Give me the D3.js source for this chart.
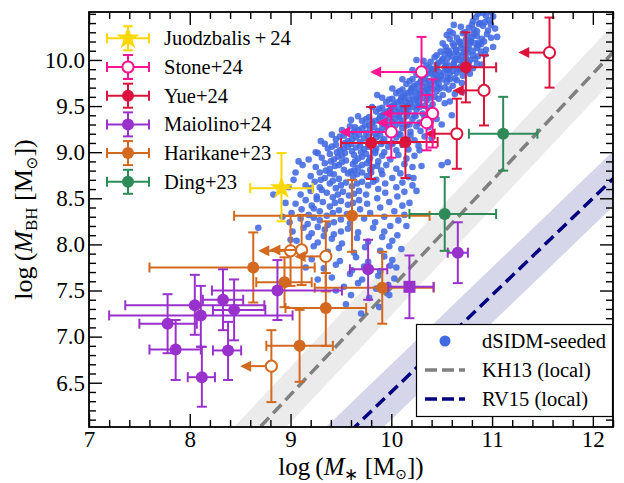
<!DOCTYPE html>
<html>
<head>
<meta charset="utf-8">
<script src="https://cdn.jsdelivr.net/npm/d3@7"></script>
<style>
  body { margin: 0; background: #fff; }
</style>
</head>
<body>
<div id="chart"></div>
<script>
// ---- data ----
// dSIDM-seeded simulated galaxies: [log M*, log MBH]
const dsidm = [
  [10.84,10.46],[10.91,10.51],[10.97,10.43],[10.81,10.42],[10.94,10.48],[11.01,10.47],[10.88,10.40],[10.99,10.52],[10.86,10.50],
  [10.77,10.35],[10.85,10.31],[10.91,10.37],[10.96,10.32],[10.73,10.30],[10.87,10.39],[10.80,10.38],[11.03,10.34],[10.93,10.41],[10.69,10.36],[10.82,10.33],[10.99,10.38],
  [10.65,10.24],[10.71,10.29],[10.79,10.21],[10.82,10.28],[10.90,10.23],[10.95,10.28],[10.68,10.20],[10.75,10.27],[10.87,10.19],[10.61,10.29],[10.80,10.25],[10.92,10.20],[10.99,10.24],[10.58,10.23],[10.74,10.22],[10.85,10.26],
  [10.54,10.14],[10.61,10.18],[10.64,10.11],[10.71,10.16],[10.75,10.12],[10.78,10.19],[10.85,10.13],[10.89,10.17],[10.94,10.11],[10.57,10.10],[10.67,10.19],[10.73,10.09],[10.81,10.10],[10.62,10.15],[10.77,10.15],[10.86,10.16],[10.51,10.18],[11.01,10.14],[10.69,10.13],[10.83,10.18],
  [10.45,10.05],[10.49,10.09],[10.56,10.02],[10.58,10.07],[10.64,10.01],[10.66,10.06],[10.72,10.08],[10.74,10.02],[10.81,10.05],[10.83,10.01],[10.89,10.09],[10.51,10.01],[10.55,10.10],[10.64,10.09],[10.70,10.04],[10.78,10.00],[10.60,10.04],[10.68,10.00],[10.43,10.03],[10.93,10.06],[10.53,10.06],[10.76,10.08],[10.86,10.04],
  [10.35,9.94],[10.39,9.98],[10.45,9.91],[10.47,9.97],[10.53,9.92],[10.55,9.96],[10.61,9.94],[10.63,9.99],[10.69,9.93],[10.71,9.90],[10.77,9.97],[10.81,9.91],[10.41,9.90],[10.50,9.99],[10.57,9.90],[10.66,9.91],[10.71,9.98],[10.45,9.95],[10.54,9.94],[10.62,9.96],[10.85,9.96],[10.32,9.99],[10.38,9.92],[10.74,9.94],
  [10.25,9.84],[10.31,9.88],[10.33,9.81],[10.39,9.86],[10.42,9.82],[10.47,9.87],[10.49,9.83],[10.55,9.89],[10.58,9.85],[10.63,9.80],[10.65,9.86],[10.71,9.83],[10.31,9.80],[10.41,9.89],[10.47,9.80],[10.56,9.81],[10.61,9.88],[10.36,9.85],[10.44,9.84],[10.52,9.86],[10.75,9.88],[10.21,9.89],[10.28,9.86],[10.68,9.89],
  [10.15,9.74],[10.21,9.79],[10.23,9.72],[10.29,9.76],[10.31,9.71],[10.37,9.77],[10.39,9.73],[10.45,9.78],[10.47,9.74],[10.53,9.70],[10.55,9.76],[10.61,9.72],[10.21,9.70],[10.30,9.79],[10.37,9.70],[10.46,9.71],[10.51,9.79],[10.26,9.74],[10.34,9.75],[10.42,9.76],[10.65,9.78],[10.11,9.79],[10.18,9.77],[10.58,9.79],[10.70,9.75],
  [10.05,9.64],[10.11,9.68],[10.13,9.62],[10.19,9.66],[10.21,9.61],[10.27,9.67],[10.29,9.63],[10.35,9.68],[10.37,9.64],[10.43,9.60],[10.45,9.66],[10.51,9.62],[10.11,9.60],[10.20,9.69],[10.27,9.60],[10.36,9.61],[10.41,9.69],[10.16,9.64],[10.24,9.65],[10.32,9.66],[10.57,9.68],[10.01,9.69],[10.63,9.63],[10.08,9.66],[10.48,9.69],
  [9.95,9.54],[10.01,9.58],[10.03,9.52],[10.09,9.56],[10.11,9.51],[10.17,9.57],[10.19,9.53],[10.25,9.58],[10.27,9.54],[10.33,9.50],[10.35,9.56],[10.41,9.52],[10.01,9.50],[10.10,9.59],[10.17,9.50],[10.26,9.51],[10.31,9.59],[10.06,9.54],[10.14,9.55],[10.22,9.56],[10.47,9.58],[9.91,9.59],[10.53,9.53],[9.98,9.57],[10.38,9.59],
  [9.85,9.44],[9.91,9.48],[9.93,9.42],[9.99,9.46],[10.01,9.41],[10.07,9.47],[10.09,9.43],[10.15,9.48],[10.17,9.44],[10.23,9.40],[10.25,9.46],[10.31,9.42],[9.91,9.40],[10.00,9.49],[10.07,9.40],[10.16,9.41],[10.21,9.49],[9.96,9.44],[10.04,9.45],[10.12,9.46],[10.37,9.48],[9.81,9.49],[10.43,9.43],[9.88,9.47],[10.28,9.49],
  [9.71,9.34],[9.78,9.38],[9.81,9.32],[9.88,9.36],[9.91,9.31],[9.98,9.37],[10.01,9.33],[10.08,9.38],[10.11,9.34],[10.18,9.30],[10.21,9.36],[10.28,9.32],[9.78,9.30],[9.89,9.39],[9.98,9.30],[10.09,9.31],[10.15,9.39],[9.84,9.34],[9.94,9.35],[10.04,9.36],[10.33,9.38],[9.67,9.39],[10.39,9.33],[10.45,9.36],[9.75,9.36],[10.24,9.39],
  [9.51,9.24],[9.59,9.28],[9.63,9.22],[9.71,9.26],[9.75,9.21],[9.83,9.27],[9.87,9.23],[9.95,9.28],[9.99,9.24],[10.07,9.20],[10.11,9.26],[10.19,9.22],[9.60,9.20],[9.74,9.29],[9.84,9.20],[9.97,9.21],[10.04,9.29],[9.67,9.24],[9.79,9.25],[9.91,9.26],[10.25,9.28],[10.29,9.23],[10.37,9.27],[9.55,9.21],[9.64,9.27],[10.15,9.29],
  [9.45,9.14],[9.53,9.18],[9.57,9.12],[9.65,9.16],[9.69,9.11],[9.77,9.17],[9.81,9.13],[9.89,9.18],[9.93,9.14],[10.01,9.10],[10.05,9.16],[10.13,9.12],[9.54,9.10],[9.68,9.19],[9.78,9.10],[9.91,9.11],[9.98,9.19],[9.61,9.14],[9.73,9.15],[9.85,9.16],[10.19,9.18],[10.23,9.13],[10.33,9.17],[9.41,9.19],[9.49,9.17],[10.09,9.19],
  [9.37,9.04],[9.45,9.08],[9.49,9.02],[9.57,9.06],[9.61,9.01],[9.69,9.07],[9.73,9.03],[9.81,9.08],[9.85,9.04],[9.93,9.00],[9.97,9.06],[10.05,9.02],[9.46,9.00],[9.60,9.09],[9.70,9.00],[9.84,9.01],[9.90,9.09],[9.53,9.04],[9.65,9.05],[9.77,9.06],[10.11,9.08],[10.17,9.03],[10.27,9.07],[9.34,9.09],[9.41,9.06],[10.01,9.09],
  [9.31,8.94],[9.39,8.98],[9.43,8.92],[9.51,8.96],[9.55,8.91],[9.63,8.97],[9.67,8.93],[9.75,8.98],[9.79,8.94],[9.87,8.90],[9.91,8.96],[9.99,8.92],[9.40,8.90],[9.54,8.99],[9.64,8.90],[9.78,8.91],[9.84,8.99],[10.07,8.97],[10.15,8.93],[10.23,8.96],[9.08,8.90],[9.27,8.99],[9.47,8.95],[9.71,8.95],
  [9.25,8.84],[9.34,8.88],[9.39,8.82],[9.48,8.86],[9.53,8.81],[9.62,8.87],[9.67,8.83],[9.76,8.88],[9.81,8.84],[9.90,8.80],[9.95,8.86],[10.05,8.82],[9.35,8.80],[9.51,8.89],[9.63,8.80],[9.79,8.81],[10.13,8.87],[10.21,8.84],[10.50,8.86],[10.56,8.89],[9.44,8.85],[9.71,8.86],[9.86,8.85],
  [9.20,8.74],[9.29,8.78],[9.34,8.72],[9.43,8.76],[9.48,8.71],[9.57,8.77],[9.62,8.73],[9.71,8.78],[9.76,8.74],[9.85,8.70],[9.91,8.76],[10.01,8.72],[10.09,8.77],[10.17,8.73],[9.30,8.70],[9.60,8.79],[9.39,8.77],[9.66,8.76],[9.80,8.78],
  [9.15,8.64],[9.24,8.68],[9.29,8.62],[9.39,8.66],[9.45,8.61],[9.55,8.67],[9.61,8.63],[9.71,8.68],[9.77,8.64],[9.87,8.60],[9.94,8.66],[10.05,8.62],[10.11,8.67],[10.21,8.64],[9.42,8.69],[9.20,8.61],[9.50,8.64],[9.66,8.66],[9.82,8.68],
  [9.10,8.54],[9.20,8.58],[9.26,8.52],[9.36,8.56],[9.42,8.51],[9.52,8.57],[9.58,8.53],[9.68,8.58],[9.75,8.54],[9.86,8.50],[9.94,8.56],[10.06,8.52],[10.13,8.57],[8.83,8.54],[9.31,8.59],[9.47,8.54],[9.63,8.55],
  [9.05,8.44],[9.15,8.48],[9.21,8.42],[9.32,8.46],[9.39,8.41],[9.50,8.47],[9.57,8.43],[9.68,8.48],[9.76,8.44],[9.89,8.40],[9.98,8.46],[10.11,8.42],[9.26,8.49],[9.44,8.45],[9.62,8.45],
  [9.01,8.34],[9.11,8.38],[9.18,8.32],[9.29,8.36],[9.36,8.31],[9.48,8.37],[9.56,8.33],[9.69,8.38],[9.79,8.34],[9.93,8.30],[10.03,8.36],[10.13,8.32],[9.23,8.39],[9.42,8.34],
  [8.99,8.24],[9.10,8.28],[9.17,8.22],[9.29,8.26],[9.37,8.21],[9.50,8.27],[9.59,8.23],[9.73,8.28],[9.84,8.24],[9.99,8.20],[10.07,8.26],[9.23,8.29],[9.43,8.24],
  [9.02,8.14],[9.13,8.18],[9.21,8.12],[9.34,8.16],[9.43,8.11],[9.57,8.17],[9.67,8.13],[9.82,8.18],[9.93,8.14],[10.06,8.10],[8.68,8.18],[9.27,8.19],[9.50,8.14],
  [9.06,8.04],[9.18,8.08],[9.27,8.02],[9.41,8.06],[9.51,8.01],[9.66,8.07],[9.77,8.03],[9.91,8.08],[10.01,8.04],[9.33,8.09],
  [9.13,7.94],[9.23,7.98],[9.37,7.92],[9.48,7.96],[9.63,7.91],[9.74,7.97],[9.89,7.93],[9.98,7.98],
  [9.21,7.84],[9.37,7.88],[9.49,7.82],[9.65,7.86],[9.77,7.81],[9.93,7.87],[10.01,7.83],
  [9.33,7.74],[9.45,7.78],[9.61,7.72],[9.73,7.76],[9.89,7.71],[9.99,7.77],
  [9.41,7.64],[9.59,7.68],[9.71,7.62],[9.87,7.66],[10.03,7.63],
  [9.53,7.54],[9.67,7.58],[9.85,7.52],[9.97,7.56],
  [9.60,7.45],[9.78,7.42],[9.88,7.32],[9.70,7.25],
  // scattered outliers around the main cloud
  [9.05,8.78],[9.12,8.86],[8.98,8.62],[9.03,8.70],[8.95,8.45],[9.18,8.92],[9.00,8.05],[8.92,8.30],
  [10.18,8.45],[10.25,8.58],[10.22,8.72],[10.30,8.85],[10.28,9.02],[10.40,9.15],[10.15,8.20],[10.10,7.95],
  [9.15,7.75],[9.27,7.62],[9.45,7.50],[9.98,7.45],[10.05,7.75],[9.55,7.35],
  [10.60,9.40],[10.58,9.55],[10.70,9.65],[10.78,9.85],[10.90,9.95],[11.05,10.25],[10.50,9.30],
  [9.60,9.35],[9.30,9.12],[9.25,9.00],[9.86,9.62],[10.25,10.00],[10.58,10.31],[10.62,10.38],[10.55,10.27]
];

// detections: [x, y, x err low, x err high, y err low, y err high]
const juodzbalis = [[8.91, 8.61, 0.31, 0.31, 0.36, 0.38]];
const yueDet = [[10.74, 9.92, 0.30, 0.30, 0.38, 0.38], [9.80, 9.10, 0.30, 0.30, 0.39, 0.39], [10.14, 9.11, 0.32, 0.32, 0.39, 0.39]];
const maiolino = [
  [7.78, 7.14, 0.28, 0.29, 0.32, 0.32], [7.86, 6.86, 0.26, 0.25, 0.33, 0.32],
  [8.05, 7.34, 0.69, 0.69, 0.32, 0.33], [8.11, 7.23, 0.91, 0.91, 0.34, 0.32],
  [8.12, 6.56, 0.14, 0.13, 0.32, 0.33], [8.33, 7.40, 0.20, 0.20, 0.33, 0.33],
  [8.44, 7.29, 0.21, 0.31, 0.33, 0.33], [8.38, 6.85, 0.15, 0.13, 0.32, 0.31],
  [8.87, 7.50, 0.65, 0.64, 0.32, 0.33], [9.77, 7.73, 0.18, 0.19, 0.33, 0.32],
  [10.66, 7.91, 0.10, 0.10, 0.33, 0.33]
];
const maiolinoSq = [[10.18, 7.54, 0.21, 0.24, 0.34, 0.34]];
const harikaneDet = [
  [8.63, 7.75, 1.03, 0.61, 0.38, 0.38], [8.94, 7.59, 0.28, 0.27, 0.27, 0.27],
  [9.09, 6.90, 0.33, 0.33, 0.39, 0.39], [9.35, 7.31, 0.40, 0.40, 0.41, 0.38],
  [9.61, 8.31, 1.17, 0.77, 0.39, 0.39], [9.91, 7.53, 0.67, 0.51, 0.39, 0.39]
];
const ding = [[11.11, 9.20, 0.34, 0.34, 0.40, 0.40], [10.53, 8.33, 0.35, 0.51, 0.40, 0.40]];

// upper limits on M*: [x, y, arrow length, y err]
const stoneLim = [[10.30, 9.87, 0.51, 0.38], [10.41, 9.42, 0.51, 0.37], [10.35, 9.32, 0.50, 0.30], [10.00, 9.22, 0.52, 0.28]];
const yueLim = [[11.57, 10.08, 0.31, 0.38], [10.92, 9.67, 0.31, 0.38], [10.65, 9.20, 0.32, 0.38]];
const harikaneLim = [[9.00, 7.93, 0.32, 0.38], [9.11, 7.94, 0.32, 0.38], [9.35, 7.87, 0.31, 0.38], [8.81, 6.68, 0.31, 0.39]];

// local relations: log MBH = a + b (log M* - 11), band +- s
const kh13 = { a: 8.69, b: 1.16, s: 0.3 };
const rv15 = { a: 7.45, b: 1.05, s: 0.3 };

const xTicks = [7, 8, 9, 10, 11, 12];
const yTicks = [6.5, 7.0, 7.5, 8.0, 8.5, 9.0, 9.5, 10.0];

const obsLegend = ["Juodzbalis\u2009+\u200924", "Stone+24", "Yue+24", "Maiolino+24", "Harikane+23", "Ding+23"];
const obsColors = ["#ffd700", "#ff1493", "#dc143c", "#9932cc", "#d2691e", "#2e8b57"];

// ---- layout ----
const width = 624, height = 483;
const plot = { left: 89, right: 613, top: 12, bottom: 427 };
const serif = "Liberation Serif";

const x = d3.scaleLinear().domain([7, 12.2]).range([plot.left, plot.right]);
const y = d3.scaleLinear().domain([6.02, 10.52]).range([plot.bottom, plot.top]);

const svg = d3.select("#chart").append("svg")
  .attr("width", width).attr("height", height)
  .attr("font-family", serif)
  .style("background", "#fff");

svg.append("clipPath").attr("id", "clip")
  .append("rect")
  .attr("x", plot.left).attr("y", plot.top)
  .attr("width", plot.right - plot.left).attr("height", plot.bottom - plot.top);

const g = svg.append("g").attr("clip-path", "url(#clip)");

// relation bands and lines
function relation(rel, fill, stroke) {
  const xs = [6.5, 12.5];
  const area = d3.area()
    .x(d => x(d))
    .y0(d => y(rel.a + rel.b * (d - 11) - rel.s))
    .y1(d => y(rel.a + rel.b * (d - 11) + rel.s));
  g.append("path").datum(xs).attr("d", area).attr("fill", fill);
  g.append("line")
    .attr("x1", x(xs[0])).attr("y1", y(rel.a + rel.b * (xs[0] - 11)))
    .attr("x2", x(xs[1])).attr("y2", y(rel.a + rel.b * (xs[1] - 11)))
    .attr("stroke", stroke).attr("stroke-width", 3.5)
    .attr("stroke-dasharray", "12,6");
}
relation(kh13, "#ebebeb", "#808080");
relation(rv15, "#d6d6eb", "#000080");

// simulated cloud
g.append("g").selectAll("circle")
  .data(dsidm)
  .join("circle")
  .attr("cx", d => x(d[0])).attr("cy", d => y(d[1]))
  .attr("r", 3.3)
  .attr("fill", "#4169e1")
  .attr("fill-opacity", 0.88);

// error bar helpers
const cap = 5;
function hbar(sel, x1, x2, yy, color) {
  sel.append("line").attr("x1", x1).attr("x2", x2).attr("y1", yy).attr("y2", yy)
    .attr("stroke", color).attr("stroke-width", 2);
}
function vbar(sel, xx, y1, y2, color) {
  sel.append("line").attr("x1", xx).attr("x2", xx).attr("y1", y1).attr("y2", y2)
    .attr("stroke", color).attr("stroke-width", 2);
}
function crossPx(sel, cx, cy, xl, xr, yu, yl, color) {
  hbar(sel, xl, xr, cy, color);
  vbar(sel, xl, cy - cap, cy + cap, color);
  vbar(sel, xr, cy - cap, cy + cap, color);
  vbar(sel, cx, yu, yl, color);
  hbar(sel, cx - cap, cx + cap, yu, color);
  hbar(sel, cx - cap, cx + cap, yl, color);
}
function marker(sel, cx, cy, kind, color) {
  if (kind === "star") {
    sel.append("path").attr("d", d3.symbol(d3.symbolStar, 170)())
      .attr("transform", `translate(${cx},${cy})`).attr("fill", color);
  } else if (kind === "square") {
    sel.append("rect").attr("x", cx - 6).attr("y", cy - 6).attr("width", 12).attr("height", 12)
      .attr("fill", color);
  } else if (kind === "open") {
    sel.append("circle").attr("cx", cx).attr("cy", cy).attr("r", 5.6)
      .attr("fill", "#fff").attr("stroke", color).attr("stroke-width", 2);
  } else {
    sel.append("circle").attr("cx", cx).attr("cy", cy).attr("r", 6).attr("fill", color);
  }
}
function detections(data, color, kind) {
  const s = g.append("g");
  data.forEach(d => {
    crossPx(s, x(d[0]), y(d[1]), x(d[0] - d[2]), x(d[0] + d[3]), y(d[1] + d[5]), y(d[1] - d[4]), color);
    marker(s, x(d[0]), y(d[1]), kind, color);
  });
}
function limits(data, color) {
  const s = g.append("g");
  data.forEach(d => {
    const cx = x(d[0]), cy = y(d[1]), xe = x(d[0] - d[2]);
    vbar(s, cx, y(d[1] + d[3]), y(d[1] - d[3]), color);
    hbar(s, cx - cap, cx + cap, y(d[1] + d[3]), color);
    hbar(s, cx - cap, cx + cap, y(d[1] - d[3]), color);
    hbar(s, cx, xe + 6, cy, color);
    s.append("path")
      .attr("d", `M${xe},${cy}L${xe + 11},${cy - 5.5}L${xe + 11},${cy + 5.5}Z`)
      .attr("fill", color);
    marker(s, cx, cy, "open", color);
  });
}

detections(harikaneDet, obsColors[4], "circle");
limits(harikaneLim, obsColors[4]);
detections(maiolino, obsColors[3], "circle");
detections(maiolinoSq, obsColors[3], "square");
detections(ding, obsColors[5], "circle");
limits(yueLim, obsColors[2]);
detections(yueDet, obsColors[2], "circle");
limits(stoneLim, obsColors[1]);
detections(juodzbalis, obsColors[0], "star");

// ---- axes ----
function frange(a, b, step) {
  const out = [];
  for (let v = a; v <= b + 1e-9; v += step) out.push(+v.toFixed(2));
  return out;
}
const xMinor = frange(7, 12.2, 0.2).filter(v => !xTicks.includes(v));
const yMinor = frange(6.1, 10.5, 0.1).filter(v => !yTicks.includes(v));
const major = 13, minor = 7;

function addAxis(axis, tx, ty, labels) {
  const a = svg.append("g").attr("transform", `translate(${tx},${ty})`).call(axis);
  a.attr("font-family", serif).attr("font-size", 23);
  a.select(".domain").remove();
  a.selectAll(".tick line").attr("stroke", "#000").attr("stroke-width", 1.4);
  a.selectAll("text").attr("fill", "#000");
  if (!labels) a.selectAll("text").remove();
  return a;
}
addAxis(d3.axisBottom(x).tickValues(xTicks).tickSize(-major).tickPadding(4).tickFormat(d3.format("d")), 0, plot.bottom, true);
addAxis(d3.axisBottom(x).tickValues(xMinor).tickSize(-minor), 0, plot.bottom, false);
addAxis(d3.axisTop(x).tickValues(xTicks).tickSize(-major), 0, plot.top, false);
addAxis(d3.axisTop(x).tickValues(xMinor).tickSize(-minor), 0, plot.top, false);
addAxis(d3.axisLeft(y).tickValues(yTicks).tickSize(-major).tickPadding(4).tickFormat(d3.format(".1f")), plot.left, 0, true);
addAxis(d3.axisLeft(y).tickValues(yMinor).tickSize(-minor), plot.left, 0, false);
addAxis(d3.axisRight(y).tickValues(yTicks).tickSize(-major), plot.right, 0, false);
addAxis(d3.axisRight(y).tickValues(yMinor).tickSize(-minor), plot.right, 0, false);

svg.append("rect")
  .attr("x", plot.left).attr("y", plot.top)
  .attr("width", plot.right - plot.left).attr("height", plot.bottom - plot.top)
  .attr("fill", "none").attr("stroke", "#000").attr("stroke-width", 1.8);

// axis labels
const xl = svg.append("text")
  .attr("x", (plot.left + plot.right) / 2).attr("y", 475)
  .attr("text-anchor", "middle").attr("font-size", 25);
xl.append("tspan").text("log\u2009(");
xl.append("tspan").attr("font-style", "italic").text("M");
xl.append("tspan").attr("dy", 5).attr("font-size", 17).text("\u2217");
xl.append("tspan").attr("dy", -5).text(" [M");
xl.append("tspan").attr("dy", 4).attr("font-size", 14).attr("font-family", "DejaVu Sans").text("\u2299");
xl.append("tspan").attr("dy", -4).text("])");

const yl = svg.append("text")
  .attr("transform", `translate(32,${(plot.top + plot.bottom) / 2}) rotate(-90)`)
  .attr("text-anchor", "middle").attr("font-size", 26);
yl.append("tspan").text("log\u2009(");
yl.append("tspan").attr("font-style", "italic").text("M");
yl.append("tspan").attr("dy", 5).attr("font-size", 17).text("BH");
yl.append("tspan").attr("dy", -5).text(" [M");
yl.append("tspan").attr("dy", 5).attr("font-size", 15).attr("font-family", "DejaVu Sans").text("\u2299");
yl.append("tspan").attr("dy", -5).text("])");

// ---- legends ----
const kinds = ["star", "open", "circle", "circle", "circle", "circle"];
const leg = svg.append("g");
obsLegend.forEach((name, i) => {
  const cy = 38.3 + i * 28.7, cx = 128;
  crossPx(leg, cx, cy, 107, 149, cy - 12, cy + 12, obsColors[i]);
  marker(leg, cx, cy, kinds[i], obsColors[i]);
  leg.append("text").attr("x", 164).attr("y", cy + 7).attr("font-size", 20.5).text(name);
});

const box = svg.append("g");
box.append("rect").attr("x", 416.5).attr("y", 324.5).attr("width", 196).attr("height", 92)
  .attr("fill", "#fff").attr("stroke", "#000").attr("stroke-width", 1.2);
const simNames = ["dSIDM-seeded", "KH13 (local)", "RV15 (local)"];
const rowsY = [341, 370, 399];
box.append("circle").attr("cx", 445).attr("cy", rowsY[0]).attr("r", 5.5).attr("fill", "#4169e1");
box.append("line").attr("x1", 425).attr("x2", 465).attr("y1", rowsY[1]).attr("y2", rowsY[1])
  .attr("stroke", "#808080").attr("stroke-width", 3.5).attr("stroke-dasharray", "12,5");
box.append("line").attr("x1", 425).attr("x2", 465).attr("y1", rowsY[2]).attr("y2", rowsY[2])
  .attr("stroke", "#000080").attr("stroke-width", 3.5).attr("stroke-dasharray", "12,5");
simNames.forEach((n, i) => {
  box.append("text").attr("x", 482).attr("y", rowsY[i] + 7).attr("font-size", 20.5).text(n);
});
</script>
</body>
</html>
